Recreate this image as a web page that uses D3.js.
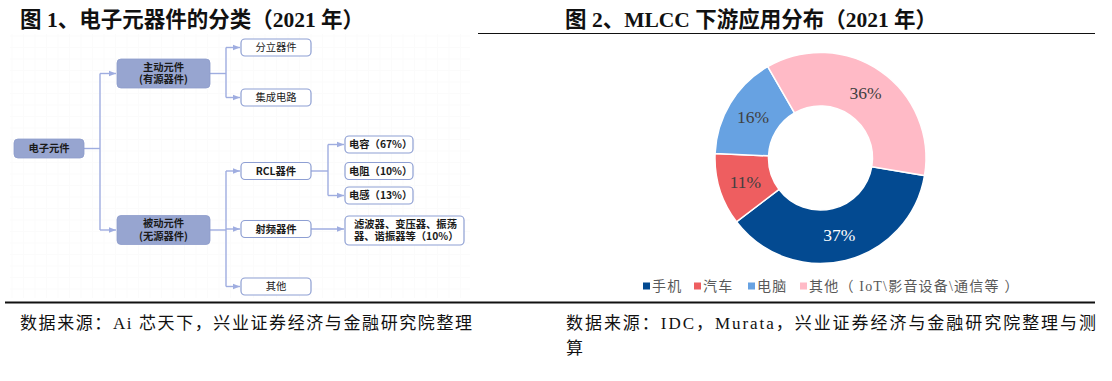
<!DOCTYPE html>
<html><head><meta charset="utf-8">
<script src="https://cdn.jsdelivr.net/npm/d3@7"></script>
<style>
html,body{margin:0;padding:0;background:#fff;}
svg{display:block;}
</style></head>
<body>
<svg id="c" width="1112" height="381"></svg>
<script>
// ---------- data ----------
const titleLeft = "图 1、电子元器件的分类（2021 年）";
const titleRight = "图 2、MLCC 下游应用分布（2021 年）";
const sourceLeft = "数据来源：Ai 芯天下，兴业证券经济与金融研究院整理";
const sourceRight1 = "数据来源：IDC，Murata，兴业证券经济与金融研究院整理与测";
const sourceRight2 = "算";

const rootLabel = ["电子元件"];
const level1Labels = [["主动元件", "(有源器件)"], ["被动元件", "(无源器件)"]];
const activeChildren = ["分立器件", "集成电路"];
const passiveChildren = ["RCL器件", "射频器件", "其他"];
const rclChildren = ["电容（67%）", "电阻（10%）", "电感（13%）"];
const rfChildren = [["滤波器、变压器、振荡", "器、谐振器等（10%）"]];

const categories = ["手机", "汽车", "电脑", "其他（ IoT\\影音设备\\通信等 ）"];
const shares = [37, 11, 16, 36];

// ---------- styles / layout ----------
const colors = ["#034a91", "#ee5e60", "#67a2e2", "#ffbac6"];
const labelColors = ["#ffffff", "#404040", "#404040", "#404040"];
const boxFill = "#97a5d0";
const lineCol = "#9fade0";
const cjk = "'Noto Sans CJK SC','Noto Sans',sans-serif";
const serif = "'Liberation Serif','Times New Roman','Noto Sans CJK SC',serif";

const svg = d3.select("#c");

// very faint background grid on the left panel
const gridG = svg.append("g");
for (let x = 12; x <= 470; x += 11.5) gridG.append("line").attr("x1", x).attr("x2", x).attr("y1", 34).attr("y2", 298).attr("stroke", "#fbfbfb");
for (let y = 36; y <= 298; y += 11.5) gridG.append("line").attr("x1", 10).attr("x2", 470).attr("y1", y).attr("y2", y).attr("stroke", "#fbfbfb");

// titles
svg.append("text").attr("x", 20).attr("y", 27).attr("font-family", serif).attr("font-weight", "bold")
  .attr("font-size", 21.5).attr("fill", "#111").text(titleLeft);
svg.append("text").attr("x", 565).attr("y", 27).attr("font-family", serif).attr("font-weight", "bold")
  .attr("font-size", 21.5).attr("fill", "#111").text(titleRight);
svg.append("line").attr("x1", 478).attr("x2", 1095).attr("y1", 33.5).attr("y2", 33.5).attr("stroke", "#111").attr("stroke-width", 1.2);

// bottom rule + sources
svg.append("line").attr("x1", 5).attr("x2", 1095).attr("y1", 302.5).attr("y2", 302.5).attr("stroke", "#111").attr("stroke-width", 2);
svg.append("text").attr("x", 20).attr("y", 329).attr("font-family", serif).attr("font-size", 17).attr("fill", "#111")
  .attr("textLength", 452).attr("lengthAdjust", "spacing").text(sourceLeft);
svg.append("text").attr("x", 566).attr("y", 329).attr("font-family", serif).attr("font-size", 17).attr("fill", "#111")
  .attr("textLength", 530).attr("lengthAdjust", "spacing").text(sourceRight1);
svg.append("text").attr("x", 566).attr("y", 354).attr("font-family", serif).attr("font-size", 17).attr("fill", "#111").text(sourceRight2);

// ---------- tree diagram ----------
const defs = svg.append("defs");
defs.append("marker").attr("id", "arr").attr("viewBox", "0 0 10 10").attr("refX", 10).attr("refY", 5)
  .attr("markerWidth", 5).attr("markerHeight", 5).attr("orient", "auto")
  .append("path").attr("d", "M0,1L10,5L0,9Z").attr("fill", lineCol);

const tree = svg.append("g");
const col = { root: [14, 70], l1: [117, 93], l2: [241, 70], l3: [345, 68], l3w: [345, 119] };
const yc = {
  root: 148.5, active: 73.5, passive: 230,
  act: [47.5, 97.5], pas: [171, 229, 286.5],
  rcl: [144.5, 171, 195.5], rf: [230.5]
};
const jx = { root: 100, l1: 226, rcl: 328 };

function line(pts, arrow) {
  const p = tree.append("path").attr("d", d3.line()(pts)).attr("fill", "none")
    .attr("stroke", lineCol).attr("stroke-width", 1.4);
  if (arrow) p.attr("marker-end", "url(#arr)");
}
function box(x, w, cy, h, filled, lines, bold, align) {
  tree.append("rect").attr("x", x).attr("y", cy - h / 2).attr("width", w).attr("height", h)
    .attr("rx", 4).attr("fill", filled ? boxFill : "#fff")
    .attr("stroke", filled ? "#8d9ccb" : "#8e9fd3").attr("stroke-width", filled ? 0.8 : 1.2);
  const n = lines.length, lh = 12.5;
  const t = tree.append("text")
    .attr("text-anchor", align === "start" ? "start" : "middle")
    .attr("font-family", cjk).attr("font-size", 10.3)
    .attr("font-weight", bold ? "bold" : "normal")
    .attr("fill", "#1a1a1a");
  const tx = align === "start" ? x + (n > 1 ? 9 : 4) : x + w / 2;
  lines.forEach((s, i) => {
    t.append("tspan").attr("x", tx)
      .attr("y", cy + (i - (n - 1) / 2) * lh + 3.7)
      .text(s);
  });
}

// connectors root -> level1
line([[col.root[0] + col.root[1], yc.root], [jx.root, yc.root]]);
line([[jx.root, yc.active], [jx.root, yc.passive]]);
line([[jx.root, yc.active], [col.l1[0] - 1, yc.active]], true);
line([[jx.root, yc.passive], [col.l1[0] - 1, yc.passive]], true);
// active -> children
line([[col.l1[0] + col.l1[1], yc.active], [jx.l1, yc.active]]);
line([[jx.l1, yc.act[0]], [jx.l1, yc.act[1]]]);
yc.act.forEach(y => line([[jx.l1, y], [col.l2[0] - 1, y]], true));
// passive -> children
line([[col.l1[0] + col.l1[1], yc.passive], [jx.l1, yc.passive]]);
line([[jx.l1, yc.pas[0]], [jx.l1, yc.pas[2]]]);
yc.pas.forEach(y => line([[jx.l1, y], [col.l2[0] - 1, y]], true));
// RCL -> children
line([[col.l2[0] + col.l2[1], yc.pas[0]], [jx.rcl, yc.pas[0]]]);
line([[jx.rcl, yc.rcl[0]], [jx.rcl, yc.rcl[2]]]);
[yc.rcl[0], yc.rcl[2]].forEach(y => line([[jx.rcl, y], [col.l3[0] - 1, y]], true));
// RF -> children
line([[col.l2[0] + col.l2[1], yc.pas[1]], [col.l3[0] - 1, yc.pas[1]]], true);

// boxes
box(col.root[0], col.root[1], yc.root, 19, true, rootLabel, true);
box(col.l1[0], col.l1[1], yc.active, 29, true, level1Labels[0], true);
box(col.l1[0], col.l1[1], yc.passive, 29, true, level1Labels[1], true);
activeChildren.forEach((t, i) => box(col.l2[0], col.l2[1], yc.act[i], 17, false, [t], false));
passiveChildren.forEach((t, i) => box(col.l2[0], col.l2[1], yc.pas[i], 17, false, [t], i < 2));
rclChildren.forEach((t, i) => box(col.l3[0], col.l3[1], yc.rcl[i], 17, false, [t], true, "start"));
rfChildren.forEach((t, i) => box(col.l3w[0], col.l3w[1], yc.rf[i], 29, false, t, true, "start"));

// ---------- donut ----------
const cx = 820.5, cy = 158, rOut = 105.5, rIn = 52;
const start = 99.6 * Math.PI / 180;
const pie = d3.pie().sort(null).value(d => d).startAngle(start).endAngle(start + 2 * Math.PI);
const arcs = pie(shares);
const arc = d3.arc().innerRadius(rIn).outerRadius(rOut);
const labelArc = d3.arc().innerRadius((rIn + rOut) / 2).outerRadius((rIn + rOut) / 2);
const pg = svg.append("g").attr("transform", `translate(${cx},${cy})`);
pg.selectAll("path").data(arcs).join("path").attr("d", arc)
  .attr("fill", (d, i) => colors[i]).attr("stroke", "#fff").attr("stroke-width", 1.5);
pg.selectAll("text").data(arcs).join("text")
  .attr("transform", d => `translate(${labelArc.centroid(d)})`)
  .attr("text-anchor", "middle").attr("dy", "0.35em")
  .attr("font-family", serif).attr("font-size", 17.5)
  .attr("fill", (d, i) => labelColors[i]).text(d => d.value + "%");

// legend
const legX = [643, 694, 748, 800];
const lg = svg.append("g");
categories.forEach((c, i) => {
  lg.append("rect").attr("x", legX[i]).attr("y", 282.5).attr("width", 7).attr("height", 7).attr("fill", colors[i]);
  lg.append("text").attr("x", legX[i] + 9).attr("y", 286).attr("dy", "0.36em")
    .attr("font-family", serif).attr("font-size", 14).attr("fill", "#595959")
    .attr("letter-spacing", 1.2).text(c);
});
</script>
</body></html>
